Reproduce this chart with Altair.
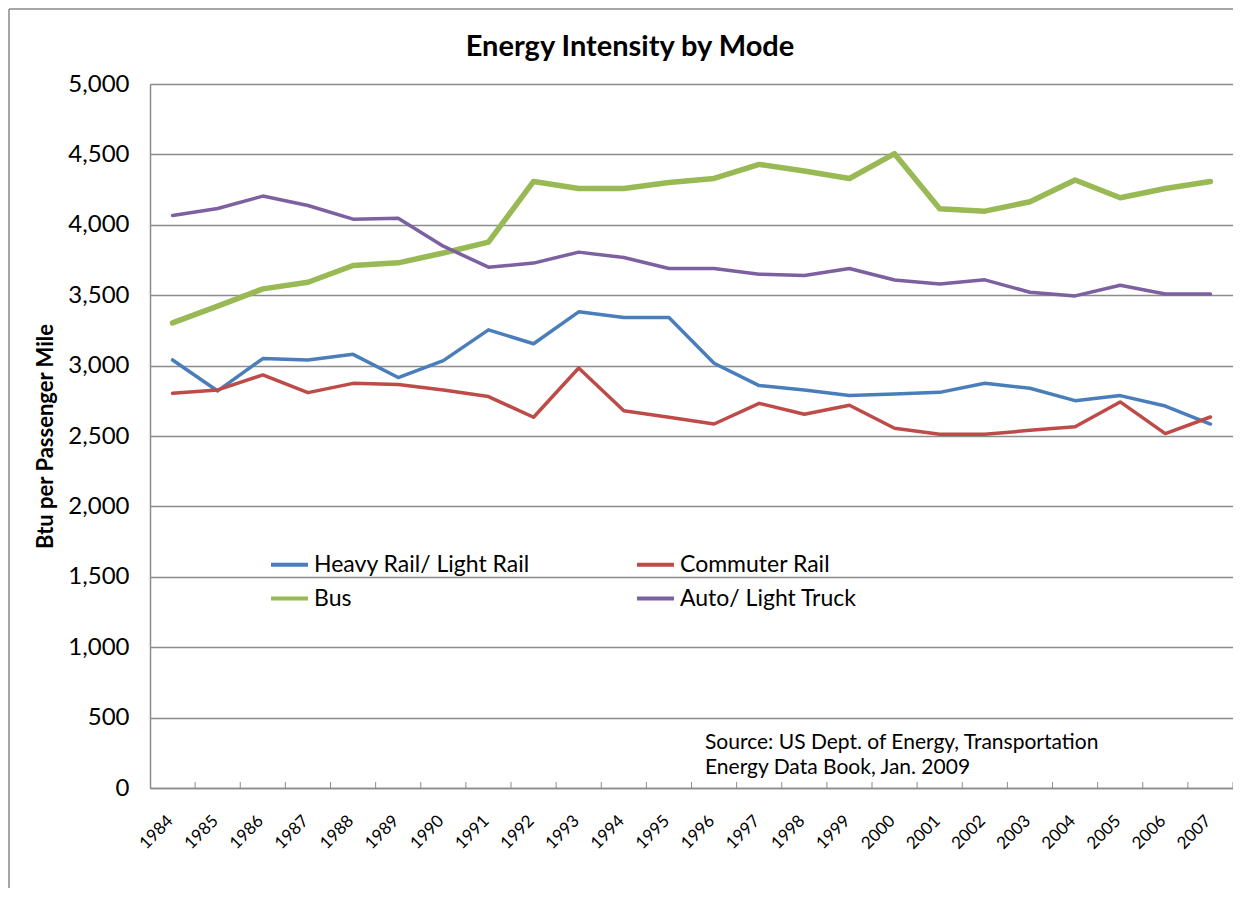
import altair as alt
import pandas as pd

years = [str(y) for y in range(1984, 2008)]
series_names = ["Heavy Rail/ Light Rail", "Commuter Rail", "Bus", "Auto/ Light Truck"]
series_colors = ["#4A7EBB", "#BE4B48", "#98B954", "#7D60A0"]

heavy_rail = [3040, 2820, 3050, 3040, 3080, 2915, 3035, 3254, 3155, 3382, 3341, 3341,
              3017, 2858, 2827, 2787, 2798, 2810, 2874, 2839, 2751, 2787, 2713, 2585]
commuter_rail = [2803, 2827, 2934, 2808, 2874, 2865, 2827, 2780, 2633, 2983, 2680, 2633,
                 2585, 2732, 2654, 2718, 2555, 2512, 2512, 2540, 2566, 2742, 2517, 2635]
bus = [3303, 3422, 3545, 3592, 3711, 3730, 3800, 3877, 4308, 4258, 4258, 4301,
       4329, 4429, 4382, 4329, 4505, 4114, 4097, 4164, 4318, 4192, 4258, 4308]
auto_truck = [4066, 4116, 4204, 4137, 4040, 4047, 3848, 3699, 3728, 3806, 3768, 3690,
              3690, 3649, 3640, 3690, 3608, 3580, 3609, 3521, 3495, 3571, 3509, 3509]

y_ticks = list(range(0, 5001, 500))
title_text = "Energy Intensity by Mode"
y_title = "Btu per Passenger Mile"
source_text = "Source: US Dept. of Energy, Transportation\nEnergy Data Book, Jan. 2009"

FONT = "Lato"
GRID = "#8c8c8c"

rows = []
for name, vals in zip(series_names, [heavy_rail, commuter_rail, bus, auto_truck]):
    for yr, v in zip(years, vals):
        rows.append({"year": yr, "value": v, "series": name})
df = pd.DataFrame(rows)
df_years = pd.DataFrame({"year": years})

x_scale = alt.Scale(type="band", paddingInner=0, paddingOuter=0, domain=years)

x_enc = alt.X("year:O", scale=x_scale, bandPosition=0.5,
              axis=alt.Axis(title=None, ticks=False, grid=False, labelAngle=-45,
                            labelAlign="right", labelBaseline="middle", labelPadding=30,
                            labelOffset=-2, labelFontSize=17, labelFont=FONT,
                            labelColor="black", domainColor=GRID, domainWidth=1.5))
y_enc = alt.Y("value:Q", scale=alt.Scale(domain=[0, 5000], nice=False),
              axis=alt.Axis(values=y_ticks, format=",d", title=y_title, ticks=False,
                            labelPadding=21, labelFontSize=24, labelFont=FONT,
                            labelColor="black", grid=True, gridColor=GRID, gridWidth=1.3,
                            domainColor=GRID, domainWidth=1.5,
                            titleFont=FONT, titleFontSize=22, titleFontWeight="bold",
                            titleColor="black", titleAngle=-90, titleX=-105, titleY=352,
                            titleAlign="center", titleBaseline="middle"))
color_enc = alt.Color("series:N", scale=alt.Scale(domain=series_names, range=series_colors),
                      sort=series_names,
                      legend=alt.Legend(title=None, orient="none", legendX=119, legendY=460,
                                        columns=2, direction="horizontal",
                                        columnPadding=99, rowPadding=1,
                                        symbolType="stroke", symbolSize=1369,
                                        symbolStrokeWidth=4, labelFontSize=23,
                                        labelFont=FONT, labelColor="black", labelOffset=4,
                                        labelLimit=400))

base = alt.Chart(df).encode(x=x_enc, y=y_enc, color=color_enc, order=alt.Order("year:O"))

bus_line = base.transform_filter(alt.datum.series == "Bus").mark_line(
    strokeWidth=5.5, strokeJoin="round", strokeCap="round")
other_lines = base.transform_filter(alt.datum.series != "Bus").mark_line(
    strokeWidth=3.5, strokeJoin="round", strokeCap="round")

ticks = alt.Chart(df_years).mark_rule(color=GRID, strokeWidth=1).encode(
    x=alt.X("year:O", scale=x_scale, bandPosition=1),
    y=alt.value(698),
    y2=alt.value(704),
)

one = df_years.head(1)

title = alt.Chart(one).mark_text(
    align="center", baseline="middle", fontSize=29, fontWeight="bold", font=FONT,
    color="black"
).encode(x=alt.value(480), y=alt.value(-37), text=alt.value(title_text))

source = alt.Chart(one).mark_text(
    align="left", baseline="top", fontSize=21, font=FONT, color="black",
    lineBreak="\n", lineHeight=25
).encode(x=alt.value(555), y=alt.value(648), text=alt.value(source_text))

border_top = alt.Chart(one).mark_rule(color="#888888", strokeWidth=1.5).encode(
    x=alt.value(-141), x2=alt.value(1095), y=alt.value(-75))
border_left = alt.Chart(one).mark_rule(color="#888888", strokeWidth=1.5).encode(
    x=alt.value(-141), y=alt.value(-75), y2=alt.value(820))

chart = alt.layer(ticks, bus_line, other_lines, title, source, border_top, border_left).properties(
    width=1083, height=704,
    padding={"left": 142, "top": 76, "right": 0, "bottom": 100},
    autosize=alt.AutoSizeParams(type="none"),
).configure_view(stroke=None).configure(background="white")

chart.save("out.html", embed_options={"renderer": "svg", "actions": False})
